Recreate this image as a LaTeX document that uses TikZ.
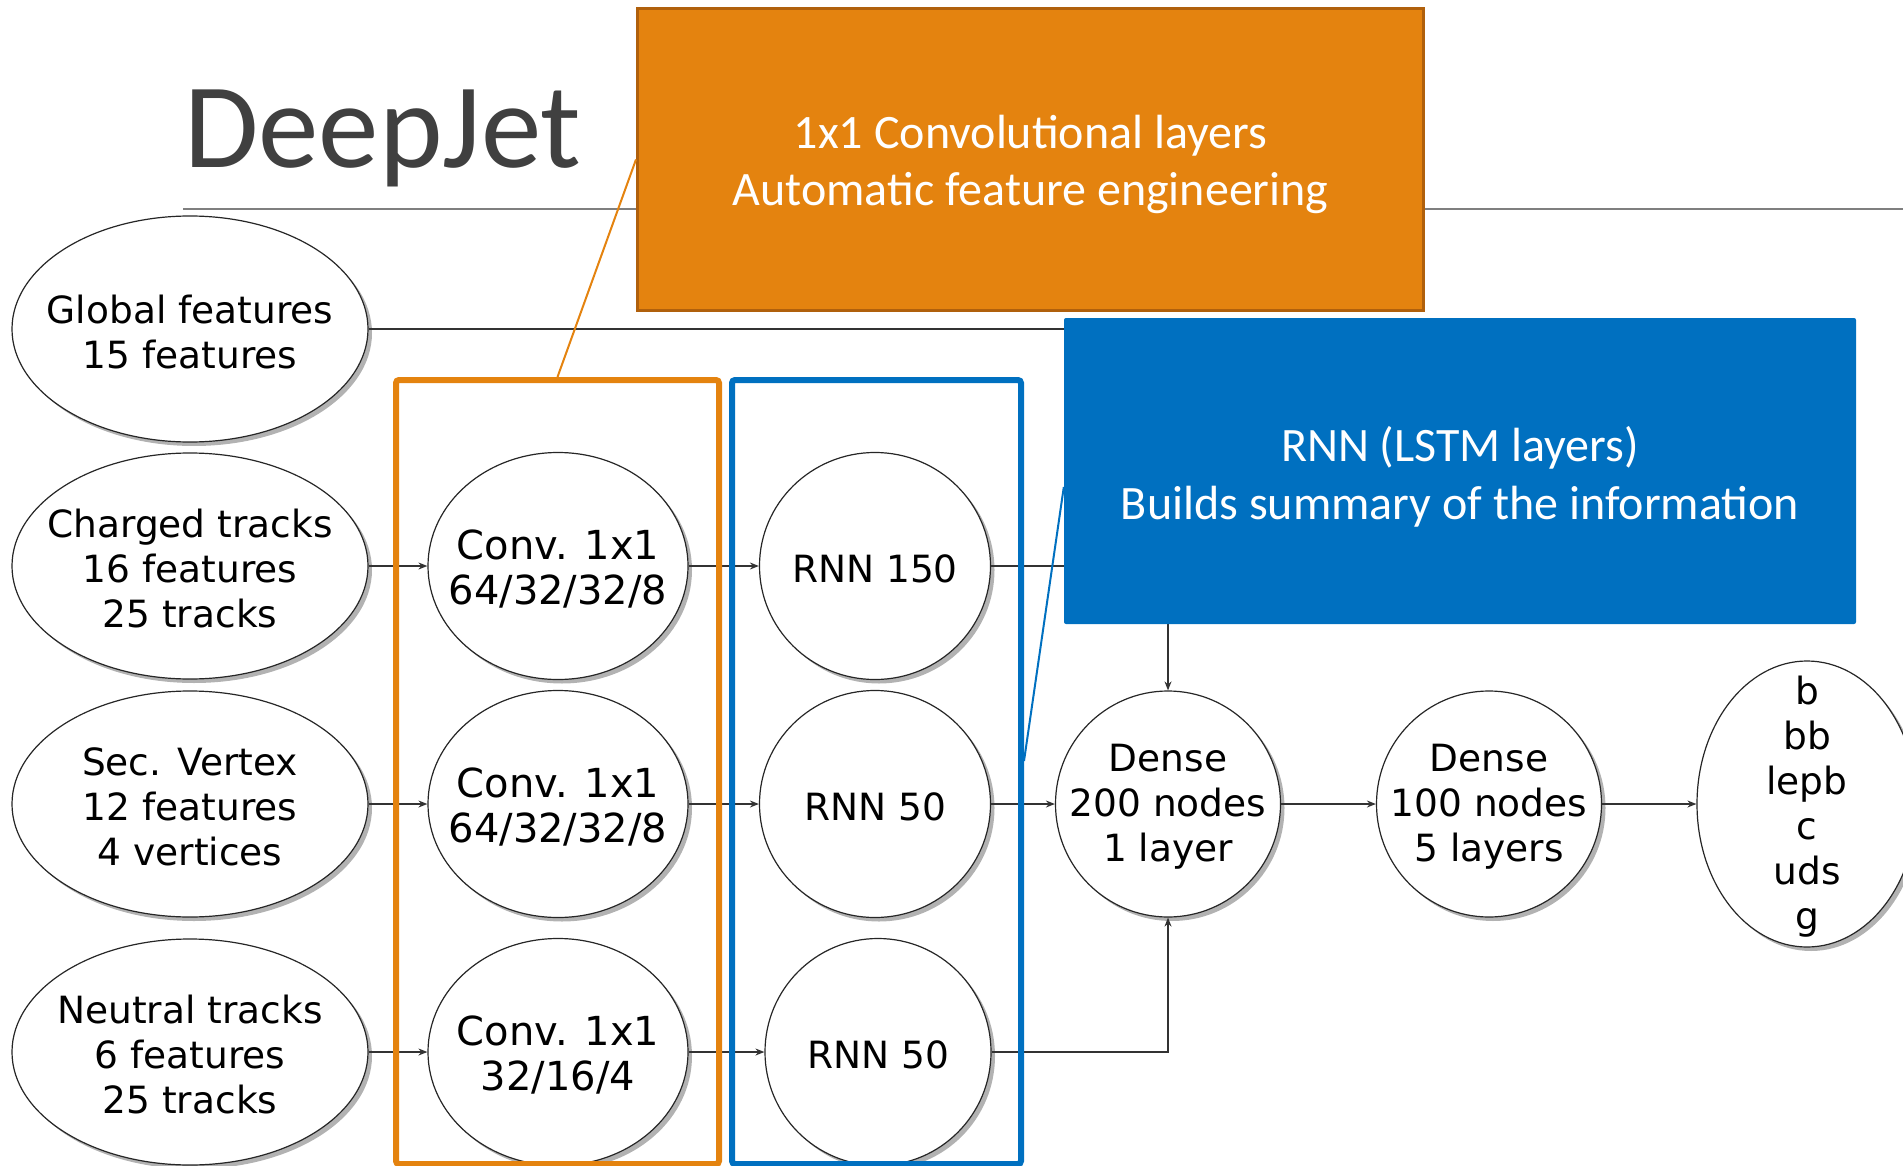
\documentclass[tikz,border=0pt]{standalone}
\usepackage{fontspec}
\setmainfont{DejaVu Sans}
\newfontfamily\calib{Carlito}
\usetikzlibrary{shapes.geometric,shadows,arrows.meta}

\definecolor{orangeF}{HTML}{E4830F}
\definecolor{orangeD}{HTML}{B0600C}
\definecolor{blueF}{HTML}{0070C0}
\definecolor{titlegray}{HTML}{404040}
\definecolor{rulegray}{HTML}{7F7F7F}

\begin{document}
\begin{tikzpicture}[x=1pt,y=-1pt,
  blob/.style={ellipse, draw=black!85, line width=1.2pt, fill=white, inner sep=0pt,
    drop shadow={shadow xshift=4pt, shadow yshift=-4pt, fill=black, opacity=0.3}},
  txt/.style={align=center, inner sep=0pt, text=black, yshift=-3pt,
    font=\fontsize{37.5}{45}\selectfont},
  bigtxt/.style={txt, font=\fontsize{40}{45}\selectfont},
  inputblob/.style={blob, minimum width=356pt, minimum height=226pt},
  convblob/.style={blob, minimum width=260pt, minimum height=227pt},
  rnnblob/.style={blob, minimum width=231pt, minimum height=227pt},
  denseblob/.style={blob, minimum width=225pt, minimum height=226pt},
  conn/.style={draw=black!80, line width=1.3pt},
  arr/.style={conn, -{Stealth[length=9pt,width=7pt]}},
  groupframe/.style={rectangle, draw, line width=6pt, rounded corners=3pt, inner sep=0pt},
  callbox/.style={rectangle, inner sep=0pt, text=white, align=center,
    font=\calib\fontsize{48}{57.5}\selectfont},
  callout/.style={line width=2pt}
]
\useasboundingbox (0,0) rectangle (1903,1166);

% heading and its rule
\draw[rulegray, line width=2pt] (183,209) -- (1903,209);
\node[anchor=base west, inner sep=0pt, text=titlegray,
  font=\calib\fontsize{121}{121}\selectfont] (title) at (184,168) {DeepJet};

% input collections
\node[inputblob, label={[txt]center:Global features\\15 features}] (global) at (190,329) {};
\node[inputblob, label={[txt]center:Charged tracks\\16 features\\25 tracks}] (charged) at (190,566) {};
\node[inputblob, label={[txt]center:Sec. Vertex\\12 features\\4 vertices}] (sv) at (190,804) {};
\node[inputblob, label={[txt]center:Neutral tracks\\6 features\\25 tracks}] (neutral) at (190,1052) {};

% 1x1 convolutions
\node[convblob, label={[bigtxt]center:Conv. 1x1\\64/32/32/8}] (conv1) at (558,566) {};
\node[convblob, label={[bigtxt]center:Conv. 1x1\\64/32/32/8}] (conv2) at (558,804) {};
\node[convblob, label={[bigtxt]center:Conv. 1x1\\32/16/4}] (conv3) at (558,1052) {};

% recurrent layers
\node[rnnblob, label={[txt]center:RNN 150}] (rnn1) at (875,566) {};
\node[rnnblob, label={[txt]center:RNN 50}] (rnn2) at (875,804) {};
\node[rnnblob, minimum width=226pt, label={[txt]center:RNN 50}] (rnn3) at (878,1052) {};

% dense part and outputs
\node[denseblob, label={[txt]center:Dense\\200 nodes\\1 layer}] (dense1) at (1168,804) {};
\node[denseblob, label={[txt]center:Dense\\100 nodes\\5 layers}] (dense2) at (1489,804) {};
\node[blob, minimum width=220pt, minimum height=286pt,
  label={[txt]center:b\\bb\\lepb\\c\\uds\\g}] (out) at (1807,804) {};

% connections
\draw[arr] (charged) -- (conv1);
\draw[arr] (sv) -- (conv2);
\draw[arr] (neutral) -- (conv3);
\draw[arr] (conv1) -- (rnn1);
\draw[arr] (conv2) -- (rnn2);
\draw[arr] (conv3) -- (rnn3);
\draw[arr] (rnn2) -- (dense1);
\draw[arr] (dense1) -- (dense2);
\draw[arr] (dense2) -- (out);
\draw[arr] (rnn3.east) -| (dense1.south);
\draw[arr] (global.east) -| (dense1.north);
\coordinate (merge) at (dense1.north |- rnn1.east);
\draw[conn] (rnn1.east) -- (merge);

% group frames
\node[groupframe, draw=orangeF, minimum width=323pt, minimum height=784pt] (convframe) at (557.5,772) {};
\node[groupframe, draw=blueF, minimum width=289pt, minimum height=784pt] (rnnframe) at (876.5,772) {};

% annotation boxes
\node[callbox, fill=orangeF, draw=orangeD, line width=3pt,
  minimum width=786pt, minimum height=302pt] (convbox) at (1030.5,159.5) {};
\node[callbox] (convtext) at ([yshift=-5pt]convbox.center)
  {1x1 Convolutional layers\\Automatic feature engineering};
\node[callbox, fill=blueF, rounded corners=2pt,
  minimum width=792pt, minimum height=306pt] (rnnbox) at (1460,471) {};
\node[callbox] (rnntext) at ([yshift=-6pt]rnnbox.center)
  {RNN (LSTM layers)\\Builds summary of the information};

% callout lines
\draw[callout, orangeF] (convbox.west) -- (convframe.north);
\draw[callout, blueF] ([yshift=-16pt]rnnbox.west) -- ([yshift=11pt]rnnframe.east);
\end{tikzpicture}
\end{document}
